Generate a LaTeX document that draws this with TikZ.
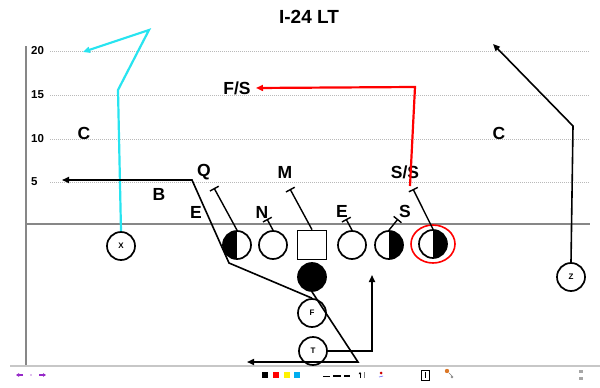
\documentclass[tikz,border=0pt]{standalone}
\usepackage{fontspec}
\setmainfont{Liberation Sans}
\usetikzlibrary{arrows.meta}
\definecolor{axisgray}{RGB}{135,135,135}
\definecolor{yardgray}{RGB}{185,185,185}
\definecolor{routecyan}{RGB}{40,228,240}
\definecolor{tbpurple}{RGB}{150,40,200}
\definecolor{tborange}{RGB}{220,120,40}
\begin{document}
\begin{tikzpicture}[x=1pt,y=-1pt,
  player/.style={draw,circle,line width=1.7pt,minimum size=28pt,inner sep=0pt,font=\bfseries\fontsize{8}{9}\selectfont},
  leftblack/.style={player,path picture={\fill[black] (path picture bounding box.south west) rectangle (path picture bounding box.north);}},
  rightblack/.style={player,path picture={\fill[black] (path picture bounding box.south) rectangle (path picture bounding box.north east);}},
  center/.style={draw,rectangle,line width=1.7pt,minimum size=29pt,inner sep=0pt},
  lbl/.style={font=\bfseries\fontsize{17.5}{19}\selectfont,inner sep=0pt},
  yardnum/.style={font=\bfseries\fontsize{11.5}{12}\selectfont,inner sep=0pt,anchor=west},
  yardline/.style={yardgray,line width=0.8pt,dash pattern=on 1pt off 1pt},
  route/.style={line width=1.6pt,black},
  arrowhd/.style={-{Triangle[length=7pt,width=6pt]}},
  blockmark/.style={line width=1.4pt,-{Bar[width=10pt,line width=1.4pt]}},
  tbsq/.style={minimum size=5.5pt,inner sep=0pt}
]
\useasboundingbox[fill=white] (0,0) rectangle (600,388);

% title
\node[font=\bfseries\fontsize{19}{21}\selectfont,inner sep=0pt] (title) at (309,17) {I-24 LT};

% yard lines
\foreach \yy/\nn in {51/20,95/15,139/10,182/5}{
  \draw[yardline] (50,\yy) -- (590,\yy);
  \node[yardnum] (y\nn) at (31,\yy) {\nn};
}
% axis and scrimmage
\draw[axisgray,line width=1.8pt] (26,46) -- (26,365);
\draw[axisgray,line width=1.4pt] (26,224) -- (590,224);
\draw[yardgray!80!white,line width=1.4pt] (10,366) -- (600,366);

% players
\node[player] (X) at (121,246) {X};
\node[leftblack] (p1) at (237,245) {};
\node[player] (p2) at (273,245) {};
\node[center] (ctr) at (312,245) {};
\node[player] (p4) at (352,245) {};
\node[rightblack] (p5) at (389,245) {};
\node[rightblack] (p6) at (433,244) {};
\node[player,fill=black] (qb) at (312,277) {};
\node[player] (F) at (312,313) {F};
\node[player] (T) at (313,351) {T};
\node[player] (Z) at (571,277) {Z};
\draw[red,line width=1.6pt] (p6) ellipse[x radius=22,y radius=19];

% defensive labels
\node[lbl] (cl) at (84,133) {C};
\node[lbl] (cr) at (499,133) {C};
\node[lbl] (fs) at (237,88) {F/S};
\node[lbl] (q) at (204,172) {Q};
\node[lbl] (m) at (285,172) {M};
\node[lbl] (ss) at (405,172) {S/S};
\node[lbl] (b) at (159,194) {B};
\node[lbl] (e1) at (196,212) {E};
\node[lbl] (n) at (262,212) {N};
\node[lbl] (e2) at (342,211) {E};
\node[lbl] (s) at (405,211) {S};

% blocking marks
\coordinate (b1) at (214,188);
\coordinate (b2) at (267,219);
\coordinate (b3) at (290,189);
\coordinate (b4) at (346,219);
\coordinate (b5) at (398,219);
\coordinate (b6) at (413,189);
\draw[blockmark] (p1.north) -- (b1);
\draw[blockmark] (p2.north) -- (b2);
\draw[blockmark] (ctr.north) -- (b3);
\draw[blockmark] (p4.north) -- (b4);
\draw[blockmark] (p5.north) -- (b5);
\draw[blockmark] (p6.north) -- (b6);

% routes
\coordinate (cyanend) at (83,52);
\draw[routecyan,line width=2.2pt,arrowhd,line join=miter] (X.north) -- (118,90) -- (149,30) -- (cyanend);
\coordinate (redstart) at (410,186);
\coordinate (redend) at (256,88);
\draw[red,line width=2.2pt,arrowhd] (redstart) -- (415,87) -- (redend);
\coordinate (zend) at (493,44);
\draw[route,arrowhd] (Z.north) -- (573,126) -- (zend);
\coordinate (fend) at (62,180);
\draw[route,arrowhd] (F.north) -- (229,263) -- (192,180) -- (fend);
\coordinate (qbend) at (247,362);
\draw[route,arrowhd] (qb.south) -- (358,362) -- (qbend);
\coordinate (tend) at (372,275);
\draw[route,arrowhd] (T.east) -| (tend);

% toolbar
\draw[tbpurple,line width=1.2pt,-{Triangle[length=3pt,width=3.5pt]}] (23,375) -- (16,375);
\fill[tbpurple!60!white] (31,375) circle[radius=0.8];
\draw[tbpurple,line width=1.2pt,-{Triangle[length=3pt,width=3.5pt]}] (39,375) -- (46,375);
\node[tbsq,fill=black] (sq1) at (265,375) {};
\node[tbsq,fill=red] (sq2) at (276,375) {};
\node[tbsq,fill=yellow] (sq3) at (287,375) {};
\node[tbsq,fill=cyan] (sq4) at (297,375) {};
\draw[black,line width=1pt] (323,376) -- (330,376);
\draw[black,line width=1.6pt] (333,376) -- (341,376);
\draw[black,line width=2.4pt] (344,376) -- (350,376);
\draw[black,line width=0.9pt,-{Triangle[length=2pt,width=2.5pt]}] (360,378) -- (360,372);
\draw[gray,line width=0.5pt] (364,372) -- (364,378);
\fill[red!80!black] (381,373) circle[radius=1.5];
\draw[blue!60!white,line width=0.6pt] (379,377) -- (383,376);
\draw[black,line width=0.6pt] (421,370) rectangle (429,380);
\draw[black,line width=0.6pt] (425,372) -- (425,378);
\fill[tborange] (447,371) circle[radius=2.2];
\draw[gray,line width=0.5pt] (449,373) -- (452,376) (452,377) circle[radius=1];
\fill[gray!70!white] (579,370) rectangle (583,373);
\fill[gray!70!white] (579,377) rectangle (583,380);
\end{tikzpicture}
\end{document}
